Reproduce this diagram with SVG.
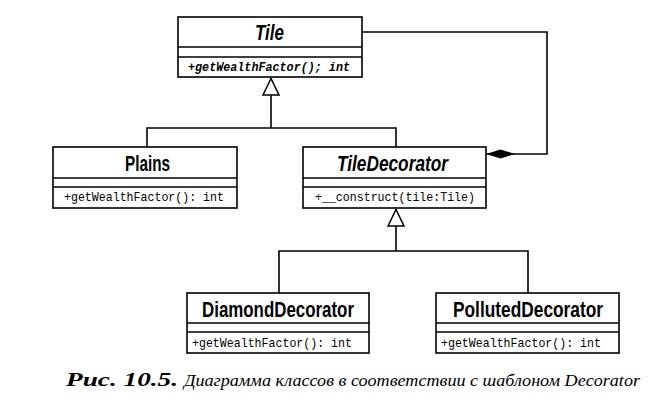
<svg xmlns="http://www.w3.org/2000/svg" width="669" height="409" viewBox="0 0 669 409">
<defs>
<style>
.box{fill:#fff;stroke:#000;stroke-width:1.6}
.div{stroke:#000;stroke-width:1.4}
.name{font-family:"Liberation Sans",Arial,sans-serif;font-weight:bold;font-size:22.5px;fill:#000}
.op{font-family:"Liberation Mono","DejaVu Sans Mono",monospace;font-size:13px;fill:#000}
.conn{fill:none;stroke:#000;stroke-width:1.6}
.cap{font-family:"Liberation Serif","Times New Roman",serif;font-style:italic;font-size:17.5px;fill:#000}
</style>
<marker id="gen" viewBox="0 0 18 18" refX="18" refY="9" markerWidth="18" markerHeight="18" markerUnits="userSpaceOnUse" orient="auto">
<path d="M1,1 L17.5,9 L1,17 Z" fill="#fff" stroke="#000" stroke-width="1.5"/>
</marker>
<marker id="comp" viewBox="0 0 30 10" refX="0" refY="5" markerWidth="30" markerHeight="10" markerUnits="userSpaceOnUse" orient="auto">
<path d="M0,5 L14.5,0.5 L29,5 L14.5,9.5 Z" fill="#000"/>
</marker>
</defs>
<g id="connectors">
<path class="conn" d="M271,128 V78" marker-end="url(#gen)"/>
<path class="conn" d="M147,147 V128 H396 V147"/>
<path class="conn" d="M396,251 V209" marker-end="url(#gen)"/>
<path class="conn" d="M279,293 V251 H528 V293"/>
<path class="conn" d="M486,154 H547 V32 H362" marker-start="url(#comp)"/>
</g>
<g id="Tile">
<rect class="box" x="178" y="17" width="184" height="60"/>
<line class="div" x1="178" y1="47" x2="362" y2="47"/>
<line class="div" x1="178" y1="57" x2="362" y2="57"/>
<text class="name" x="255" y="40" font-style="italic" textLength="29" lengthAdjust="spacingAndGlyphs">Tile</text>
<text class="op" x="188" y="71" font-style="italic" font-weight="bold" textLength="162" lengthAdjust="spacingAndGlyphs">+getWealthFactor(); int</text>
</g>
<g id="Plains">
<rect class="box" x="53" y="147" width="184" height="61"/>
<line class="div" x1="53" y1="178" x2="237" y2="178"/>
<line class="div" x1="53" y1="187" x2="237" y2="187"/>
<text class="name" x="125" y="171" textLength="45" lengthAdjust="spacingAndGlyphs">Plains</text>
<text class="op" x="64" y="201" textLength="160" lengthAdjust="spacingAndGlyphs">+getWealthFactor(): int</text>
</g>
<g id="TileDecorator">
<rect class="box" x="303" y="147" width="183" height="61"/>
<line class="div" x1="303" y1="178" x2="486" y2="178"/>
<line class="div" x1="303" y1="187" x2="486" y2="187"/>
<text class="name" x="337" y="171" font-style="italic" textLength="111" lengthAdjust="spacingAndGlyphs">TileDecorator</text>
<text class="op" x="315" y="201" textLength="160" lengthAdjust="spacingAndGlyphs">+__construct(tile:Tile)</text>
</g>
<g id="DiamondDecorator">
<rect class="box" x="187" y="293" width="182" height="60"/>
<line class="div" x1="187" y1="323" x2="369" y2="323"/>
<line class="div" x1="187" y1="332" x2="369" y2="332"/>
<text class="name" x="202" y="317" textLength="152" lengthAdjust="spacingAndGlyphs">DiamondDecorator</text>
<text class="op" x="192" y="347" textLength="160" lengthAdjust="spacingAndGlyphs">+getWealthFactor(): int</text>
</g>
<g id="PollutedDecorator">
<rect class="box" x="436" y="293" width="183" height="60"/>
<line class="div" x1="436" y1="323" x2="619" y2="323"/>
<line class="div" x1="436" y1="332" x2="619" y2="332"/>
<text class="name" x="453" y="317" textLength="150" lengthAdjust="spacingAndGlyphs">PollutedDecorator</text>
<text class="op" x="441" y="347" textLength="160" lengthAdjust="spacingAndGlyphs">+getWealthFactor(): int</text>
</g>
<text class="cap" y="386"><tspan x="66" font-weight="bold" font-size="19" textLength="112" lengthAdjust="spacingAndGlyphs">Рис. 10.5.</tspan><tspan x="184" textLength="456" lengthAdjust="spacingAndGlyphs">Диаграмма классов в соответствии с шаблоном Decorator</tspan></text>
</svg>
